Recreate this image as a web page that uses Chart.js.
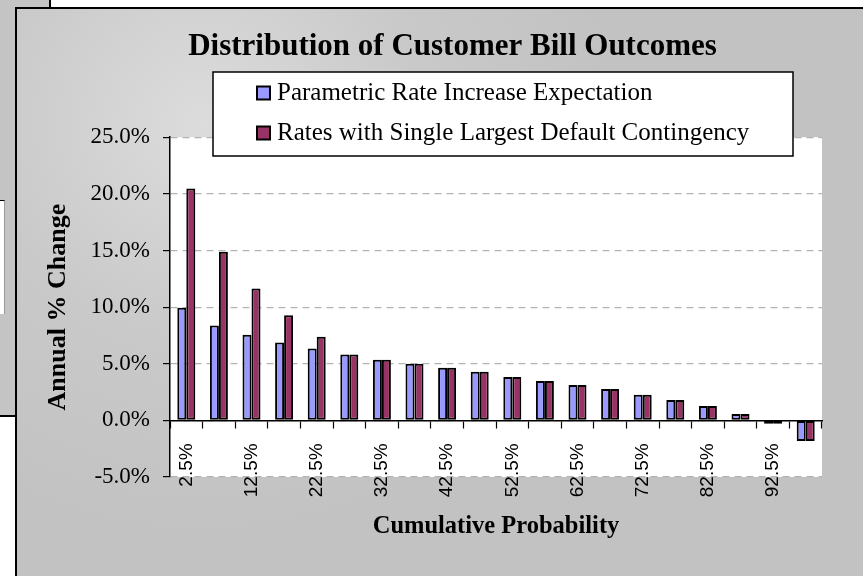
<!DOCTYPE html>
<html>
<head>
<meta charset="utf-8">
<title>Distribution of Customer Bill Outcomes</title>
<script src="https://cdn.jsdelivr.net/npm/chart.js@4/dist/chart.umd.min.js"></script>
<style>
  html, body { margin: 0; padding: 0; background: #fff; overflow: hidden; }
  #wrap { position: relative; width: 863px; height: 576px; }
  /* sheet behind the chart */
  .back-strip { position: absolute; left: 0; top: 0; width: 15px; height: 415px; background: #c4c4c4; border-bottom: 2px solid #000; }
  .back-top { position: absolute; left: 15px; top: 0; width: 34px; height: 7px; background: #c4c4c4; border-right: 2px solid #000; }
  .back-panel { position: absolute; left: 0; top: 200px; width: 4px; height: 113px; background: #fff; border-right: 1px solid #9a9a9a; border-top: 1px solid #000; }
  #frame {
    position: absolute; left: 15px; top: 7px; width: 848px; height: 569px; box-sizing: border-box;
    border-left: 2px solid #000; border-top: 2px solid #000;
    background: radial-gradient(circle at 185px 113px, #dcdcdc 0px, #c9c9c9 220px, #c2c2c2 420px);
  }
  #chart { position: absolute; left: 0; top: 0; }
</style>
</head>
<body>
<div id="wrap">
  <div class="back-strip"></div>
  <div class="back-top"></div>
  <div class="back-panel"></div>
  <div id="frame"></div>
  <canvas id="chart" width="863" height="576"></canvas>
</div>
<script>
// cumulative probability buckets
const CATEGORIES = ['2.5%', '7.5%', '12.5%', '17.5%', '22.5%', '27.5%', '32.5%', '37.5%', '42.5%', '47.5%',
                    '52.5%', '57.5%', '62.5%', '67.5%', '72.5%', '77.5%', '82.5%', '87.5%', '92.5%', '97.5%'];

// annual % change
const PARAMETRIC = [9.94, 8.38, 7.56, 6.88, 6.35, 5.82, 5.35, 5.0, 4.64, 4.29,
                    3.82, 3.47, 3.12, 2.76, 2.26, 1.79, 1.26, 0.56, -0.3, -1.83];
const DEFAULT_CONTINGENCY = [20.48, 14.88, 11.65, 9.29, 7.38, 5.82, 5.35, 5.0, 4.64, 4.29,
                             3.82, 3.47, 3.12, 2.76, 2.26, 1.79, 1.26, 0.56, -0.3, -1.83];

const SERIES_LABELS = ['Parametric Rate Increase Expectation', 'Rates with Single Largest Default Contingency'];

const Y_MIN = -5;
const Y_MAX = 25;
const Y_STEP = 5;

Chart.defaults.font.family = "'Liberation Serif', 'Times New Roman', serif";
Chart.defaults.color = '#000';

// white plot area over the gray frame
const plotBackground = {
  id: 'plotBackground',
  beforeDraw(chart) {
    const { ctx, chartArea: a } = chart;
    ctx.save();
    ctx.fillStyle = '#fff';
    ctx.fillRect(a.left, a.top, a.right - a.left, a.bottom - a.top);
    ctx.restore();
  }
};

// boxed legend floating over the top of the plot
const boxedLegend = {
  id: 'boxedLegend',
  afterDraw(chart, args, o) {
    const ctx = chart.ctx;
    ctx.save();
    ctx.fillStyle = '#fff';
    ctx.strokeStyle = '#000';
    ctx.lineWidth = 1.5;
    ctx.fillRect(o.x, o.y, o.w, o.h);
    ctx.strokeRect(o.x, o.y, o.w, o.h);
    ctx.font = o.font;
    ctx.textBaseline = 'middle';
    chart.data.datasets.forEach((ds, i) => {
      const cy = o.y + o.first + i * o.step;
      ctx.fillStyle = ds.backgroundColor;
      ctx.fillRect(o.x + o.box, cy - 6.5, 13, 13);
      ctx.lineWidth = 2;
      ctx.strokeRect(o.x + o.box, cy - 6.5, 13, 13);
      ctx.fillStyle = '#000';
      ctx.fillText(ds.label, o.x + o.text, cy);
    });
    ctx.restore();
  }
};

const barStyle = {
  borderColor: '#000',
  borderWidth: 2,
  borderSkipped: false,
  categoryPercentage: 0.552,
  barPercentage: 1
};

new Chart(document.getElementById('chart'), {
  type: 'bar',
  data: {
    labels: CATEGORIES,
    datasets: [
      { label: SERIES_LABELS[0], data: PARAMETRIC, backgroundColor: '#9999ff', ...barStyle },
      { label: SERIES_LABELS[1], data: DEFAULT_CONTINGENCY, backgroundColor: '#993366', ...barStyle }
    ]
  },
  options: {
    responsive: false,
    animation: false,
    layout: { padding: { left: 83, right: 41, top: 8, bottom: 99 } },
    plugins: {
      legend: { display: false },
      tooltip: { enabled: false },
      title: {
        display: true,
        text: 'Distribution of Customer Bill Outcomes',
        color: '#000',
        font: { size: 31, weight: 'bold' },
        padding: { top: 20, bottom: 72 }
      },
      boxedLegend: {
        x: 213, y: 72, w: 580, h: 84,
        first: 21, step: 40, box: 44, text: 64,
        font: "25px 'Liberation Serif', serif"
      }
    },
    scales: {
      x: {
        position: { y: 0 },
        offset: true,
        grid: { display: true, drawOnChartArea: false, drawTicks: true, tickLength: 7, tickColor: '#000', tickWidth: 1.2, offset: true },
        border: { display: true, color: '#000', width: 1.5 },
        ticks: {
          autoSkip: false, minRotation: 90, maxRotation: 90, padding: 16, color: '#000',
          font: { family: "'Liberation Sans', Arial, sans-serif", size: 19 },
          callback: (v, i) => (i % 2 === 0 ? CATEGORIES[i] : '')
        },
        title: {
          display: true, text: 'Cumulative Probability', color: '#000',
          font: { size: 24.5, weight: 'bold' }, padding: 0
        },
        afterFit: s => { s.height = 121; }
      },
      y: {
        min: Y_MIN,
        max: Y_MAX,
        ticks: {
          stepSize: Y_STEP, padding: 13, color: '#000', font: { size: 23 },
          callback: v => v.toFixed(1) + '%'
        },
        grid: { color: '#b3b3b3', lineWidth: 1.2, tickLength: 7, tickColor: '#000', tickWidth: 1.2 },
        border: { display: true, color: '#000', width: 1.5, dash: [7, 5] },
        title: {
          display: true, text: 'Annual % Change', color: '#000',
          font: { size: 26, weight: 'bold' }, padding: { top: -40, bottom: 0 }
        },
        afterFit: s => { s.width = 87; }
      }
    }
  },
  plugins: [plotBackground, boxedLegend]
});
</script>
</body>
</html>
